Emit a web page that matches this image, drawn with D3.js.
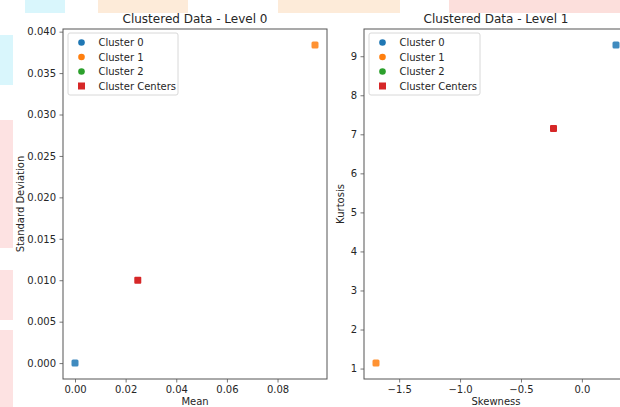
<!DOCTYPE html>
<html>
<head>
<meta charset="utf-8">
<script src="https://cdn.jsdelivr.net/npm/d3@7"></script>
<style>
  body { margin: 0; background: #fff; }
  svg { display: block; font-family: "DejaVu Sans", sans-serif; }
</style>
</head>
<body>
<svg id="chart" width="620" height="407"></svg>
<script>
// 群集資料
const clusterNames = ['Cluster 0', 'Cluster 1', 'Cluster 2'];
const clusterColors = ['#1f77b4', '#ff7f0e', '#2ca02c'];
const centerColor = '#d62728';

// Level 0: Mean vs Standard Deviation
const level0Points = [
    { cluster: 0, x: 0.0, y: 0.0 },
    { cluster: 1, x: 0.0948, y: 0.0384 }
];
const level0Centers = [{ x: 0.0248, y: 0.0100 }];
const level0XTicks = [0.00, 0.02, 0.04, 0.06, 0.08];
const level0YTicks = [0.000, 0.005, 0.010, 0.015, 0.020, 0.025, 0.030, 0.035, 0.040];

// Level 1: Skewness vs Kurtosis
const level1Points = [
    { cluster: 0, x: 0.28, y: 9.29 },
    { cluster: 1, x: -1.69, y: 1.14 }
];
const level1Centers = [{ x: -0.233, y: 7.15 }];
const level1XTicks = [-1.5, -1.0, -0.5, 0.0];
const level1YTicks = [1, 2, 3, 4, 5, 6, 7, 8, 9];

const svg = d3.select('#chart');

// 背景的淡色色塊
const bgBlocks = [
    { x: 25, y: 0, w: 40, h: 13, c: '#d9f6fc' },
    { x: 0, y: 35, w: 13, h: 50, c: '#d9f6fc' },
    { x: 98, y: 0, w: 90, h: 13, c: '#fdebd9' },
    { x: 278, y: 0, w: 122, h: 13, c: '#fdebd9' },
    { x: 449, y: 0, w: 171, h: 13, c: '#fcdfdc' },
    { x: 0, y: 120, w: 13, h: 128, c: '#fde2e2' },
    { x: 0, y: 270, w: 13, h: 50, c: '#fde2e2' },
    { x: 0, y: 330, w: 13, h: 77, c: '#fde2e2' }
];
svg.append('g').selectAll('rect').data(bgBlocks).enter()
    .append('rect')
    .attr('x', d => d.x).attr('y', d => d.y)
    .attr('width', d => d.w).attr('height', d => d.h)
    .attr('fill', d => d.c);

function fmt(ticks) {
    const step = Math.abs(ticks[1] - ticks[0]);
    const dec = Math.max(0, -Math.floor(Math.log10(step) + 1e-9));
    return v => d3.format(`.${dec}f`)(v).replace('-', '\u2212');
}

function margin5(vals) {
    const [a, b] = d3.extent(vals);
    const m = (b - a) * 0.05;
    return [a - m, b + m];
}

// 繪製一個散點子圖
function drawPanel(opt) {
    const { left, top, width, height } = opt;
    const g = svg.append('g').attr('transform', `translate(${left}, ${top})`);

    const allX = opt.points.map(d => d.x).concat(opt.centers.map(d => d.x));
    const allY = opt.points.map(d => d.y).concat(opt.centers.map(d => d.y));
    const xScale = d3.scaleLinear().domain(margin5(allX)).range([0, width]);
    const yScale = d3.scaleLinear().domain(margin5(allY)).range([height, 0]);

    const xAxis = g.append('g')
        .attr('transform', `translate(0, ${height})`)
        .call(d3.axisBottom(xScale).tickValues(opt.xTicks).tickFormat(fmt(opt.xTicks)).tickSizeInner(3.5).tickSizeOuter(0).tickPadding(3.5));
    const yAxis = g.append('g')
        .call(d3.axisLeft(yScale).tickValues(opt.yTicks).tickFormat(fmt(opt.yTicks)).tickSizeInner(3.5).tickSizeOuter(0).tickPadding(3.5));

    [xAxis, yAxis].forEach(ax => {
        ax.select('.domain').remove();
        ax.selectAll('line').attr('stroke', '#555').attr('stroke-width', 0.8);
        ax.selectAll('text').attr('fill', '#262626').style('font-size', '10px')
            .style('font-family', '"DejaVu Sans", sans-serif');
    });

    // 外框
    g.append('rect')
        .attr('width', width).attr('height', height)
        .attr('fill', 'none').attr('stroke', '#555').attr('stroke-width', 1);

    // 群集點
    const s = 7;
    g.selectAll('.pt').data(opt.points).enter()
        .append('rect')
        .attr('class', 'pt')
        .attr('x', d => xScale(d.x) - s / 2).attr('y', d => yScale(d.y) - s / 2)
        .attr('width', s).attr('height', s).attr('rx', 1.5)
        .attr('fill', d => clusterColors[d.cluster]).attr('opacity', 0.85);

    // 群集中心
    g.selectAll('.ctr').data(opt.centers).enter()
        .append('rect')
        .attr('class', 'ctr')
        .attr('x', d => xScale(d.x) - s / 2).attr('y', d => yScale(d.y) - s / 2)
        .attr('width', s).attr('height', s).attr('rx', 1)
        .attr('fill', centerColor);

    // 標題與軸標籤
    g.append('text')
        .attr('x', width / 2).attr('y', -6)
        .attr('text-anchor', 'middle')
        .attr('fill', '#262626')
        .style('font-size', '12px')
        .text(opt.title);

    g.append('text')
        .attr('x', width / 2).attr('y', height + 26)
        .attr('text-anchor', 'middle')
        .attr('fill', '#262626')
        .style('font-size', '10px')
        .text(opt.xLabel);

    g.append('text')
        .attr('transform', 'rotate(-90)')
        .attr('x', -height / 2).attr('y', -opt.yLabelOffset)
        .attr('text-anchor', 'middle')
        .attr('fill', '#262626')
        .style('font-size', '10px')
        .text(opt.yLabel);

    // 圖例
    const legend = g.append('g').attr('transform', 'translate(5, 4)');
    legend.append('rect')
        .attr('width', opt.legendWidth).attr('height', 62)
        .attr('rx', 2)
        .attr('fill', 'rgba(255,255,255,0.8)')
        .attr('stroke', '#d8d8d8').attr('stroke-width', 1);

    const legendData = clusterNames.map((n, i) => ({ label: n, color: clusterColors[i], shape: 'circle' }))
        .concat([{ label: 'Cluster Centers', color: centerColor, shape: 'square' }]);

    legendData.forEach((d, i) => {
        const item = legend.append('g').attr('transform', `translate(0, ${9.5 + i * 14.5})`);
        if (d.shape === 'circle') {
            item.append('circle').attr('cx', 13.5).attr('cy', 0).attr('r', 3.3).attr('fill', d.color);
        } else {
            item.append('rect').attr('x', 10).attr('y', -3.5).attr('width', 7).attr('height', 7).attr('fill', d.color);
        }
        item.append('text')
            .attr('x', 30.5).attr('y', 3.6)
            .attr('fill', '#262626')
            .style('font-size', '10px')
            .text(d.label);
    });
}

drawPanel({
    left: 63, top: 29, width: 264, height: 350,
    points: level0Points, centers: level0Centers,
    xTicks: level0XTicks, yTicks: level0YTicks,
    title: 'Clustered Data - Level 0',
    xLabel: 'Mean', yLabel: 'Standard Deviation', yLabelOffset: 39,
    legendWidth: 110
});

drawPanel({
    left: 364, top: 29, width: 264, height: 350,
    points: level1Points, centers: level1Centers,
    xTicks: level1XTicks, yTicks: level1YTicks,
    title: 'Clustered Data - Level 1',
    xLabel: 'Skewness', yLabel: 'Kurtosis', yLabelOffset: 20,
    legendWidth: 111
});
</script>
</body>
</html>
